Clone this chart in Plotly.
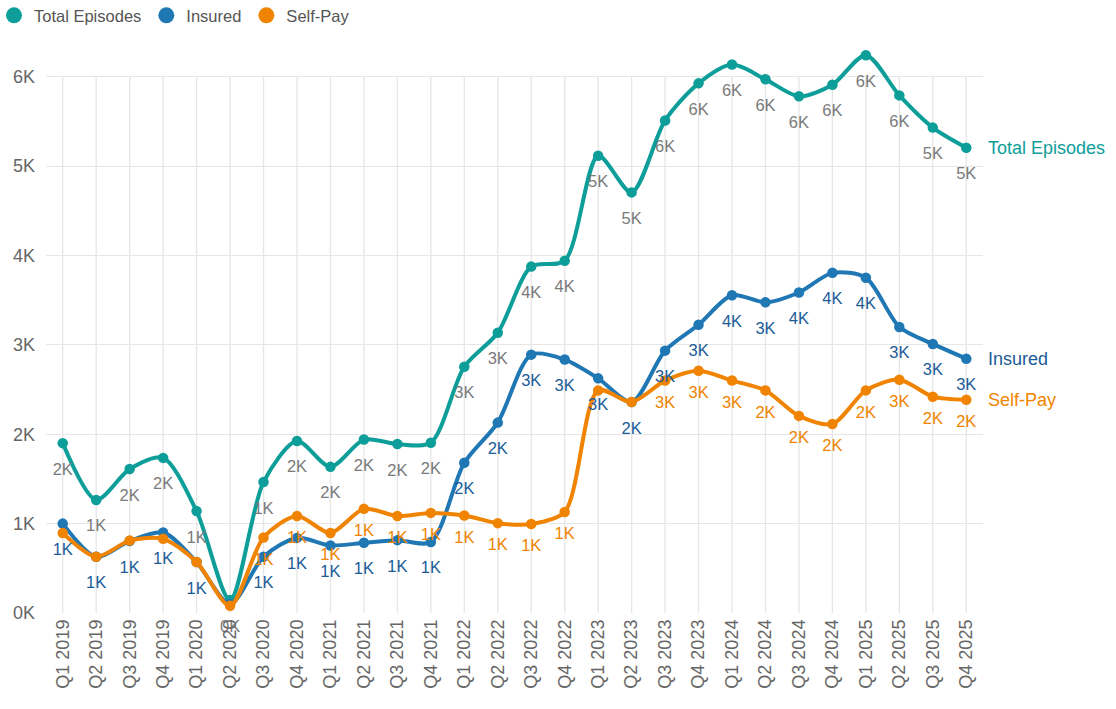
import plotly.graph_objects as go

quarters = [f"Q{q} {y}" for y in range(2019, 2026) for q in range(1, 5)]

total_episodes = [1900, 1265, 1610, 1735, 1140, 145, 1465, 1925, 1635, 1940, 1890, 1905,
                  2755, 3135, 3875, 3940, 5115, 4705, 5510, 5925, 6135, 5970, 5780, 5910,
                  6240, 5790, 5430, 5205]
insured = [1000, 630, 805, 900, 570, 100, 630, 840, 755, 785, 815, 795,
           1680, 2130, 2890, 2835, 2625, 2360, 2935, 3225, 3555, 3475, 3585, 3805,
           3750, 3200, 3010, 2845]
self_pay = [895, 630, 810, 830, 570, 80, 845, 1085, 895, 1165, 1085, 1120,
            1090, 1005, 995, 1130, 2490, 2360, 2600, 2710, 2600, 2490, 2205, 2115,
            2490, 2610, 2420, 2385]

# labels hidden in the reference because they collide with another series' label
hidden_labels = {
    "Total Episodes": [],
    "Insured": ["Q2 2020"],
    "Self-Pay": ["Q1 2019", "Q2 2019", "Q3 2019", "Q4 2019", "Q1 2020", "Q2 2020",
                 "Q1 2023", "Q2 2023"],
}

y_ticks = [0, 1000, 2000, 3000, 4000, 5000, 6000]
y_ticktext = [f"{v // 1000}K" for v in y_ticks]

series = [
    ("Total Episodes", total_episodes, "#0e9e9a", "#7a7a7a", "#0e9e9a", 29),
    ("Insured", insured, "#1f77b4", "#1b5c98", "#1b5c98", 29),
    ("Self-Pay", self_pay, "#f08400", "#f08400", "#f08400", 22),
]

FONT = "Liberation Sans, Arial, sans-serif"

fig = go.Figure()

# vertical grid lines (category gridlines) spanning 0 .. 6K
for q in quarters:
    fig.add_shape(type="line", xref="x", yref="y", x0=q, x1=q, y0=0, y1=y_ticks[-1],
                  line=dict(color="#e6e6e6", width=1.3), layer="below")

for name, vals, color, _, _, _ in series:
    fig.add_trace(go.Scatter(
        x=quarters, y=vals, name=name, mode="lines+markers",
        line=dict(color=color, width=4, shape="spline", smoothing=0.8),
        marker=dict(color=color, size=10.5),
        showlegend=False, cliponaxis=False, hoverinfo="x+y+name",
    ))

for name, vals, color, label_color, _, msize in series:
    texts = ["" if q in hidden_labels[name] else f"{round(v / 1000)}K"
             for q, v in zip(quarters, vals)]
    fig.add_trace(go.Scatter(
        x=quarters, y=vals, mode="markers+text", text=texts,
        textposition="bottom center",
        textfont=dict(family=FONT, size=16.5, color=label_color),
        marker=dict(size=msize, color="rgba(0,0,0,0)"),
        showlegend=False, cliponaxis=False, hoverinfo="skip",
    ))

# legend entries (circle symbols only)
for name, vals, color, _, _, _ in series:
    fig.add_trace(go.Scatter(
        x=[None], y=[None], name=name, mode="markers",
        marker=dict(color=color, size=16), showlegend=True,
    ))

# end-of-line labels
for name, vals, color, _, end_color, _ in series:
    fig.add_annotation(x=quarters[-1], y=vals[-1], text=name, showarrow=False,
                       xanchor="left", yanchor="middle", xshift=20,
                       font=dict(family=FONT, size=18, color=end_color))

fig.update_layout(
    width=1116, height=709,
    margin=dict(l=46, r=133, t=23, b=96, autoexpand=False),
    paper_bgcolor="white", plot_bgcolor="white",
    font=dict(family=FONT, color="#666666"),
    legend=dict(orientation="h", x=-0.0555, xanchor="left", y=1.0125, yanchor="middle",
                font=dict(family=FONT, size=16.5, color="#555555"),
                itemwidth=30, tracegroupgap=0, bgcolor="rgba(0,0,0,0)"),
    showlegend=True,
)
fig.update_xaxes(type="category", range=[-0.5, len(quarters) - 0.5], showgrid=False,
                 showline=False, zeroline=False, tickangle=-90, ticks="",
                 ticklabelstandoff=2, automargin=False,
                 tickfont=dict(family=FONT, size=18, color="#666666"))
fig.update_yaxes(range=[0, 6600], tickvals=y_ticks, ticktext=y_ticktext,
                 showgrid=True, gridcolor="#e6e6e6", gridwidth=1.3, zeroline=False,
                 showline=False, ticks="", ticklabelstandoff=10, automargin=False,
                 tickfont=dict(family=FONT, size=18, color="#666666"))

fig.write_html("out.html")
